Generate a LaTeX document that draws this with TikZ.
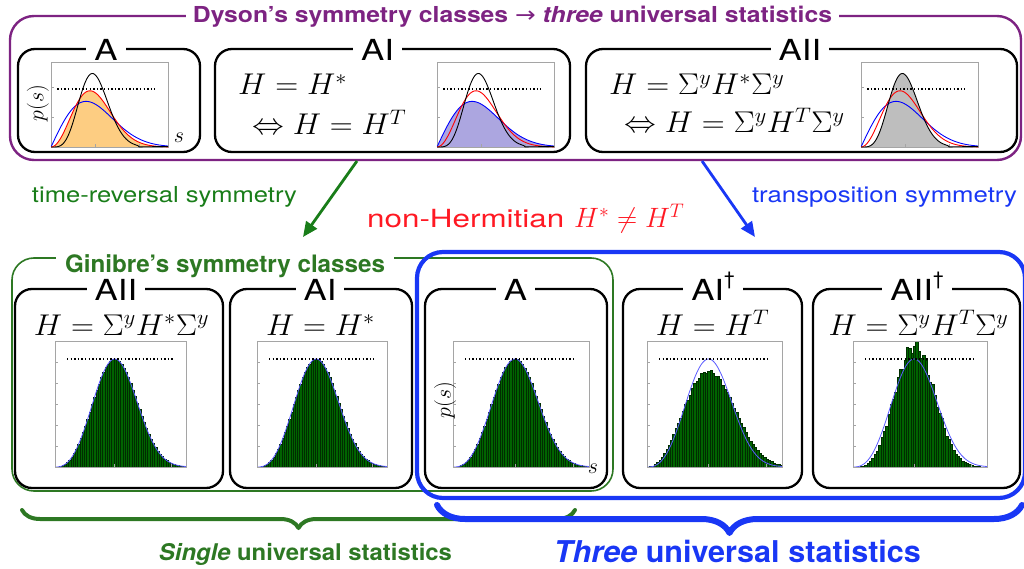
\documentclass[tikz,border=0pt]{standalone}
\usepackage{fix-cm}
\usepackage[no-math]{fontspec}
\setmainfont{TeX Gyre Heros}
\newfontfamily\dejavu{DejaVu Sans}
\usepackage{graphicx}
\usetikzlibrary{arrows.meta,decorations.pathreplacing}
\definecolor{dpurple}{RGB}{125,35,130}
\definecolor{dgreen}{RGB}{45,120,35}
\definecolor{tgreen}{RGB}{25,125,25}
\definecolor{dblue}{RGB}{25,55,245}
\definecolor{nred}{RGB}{255,25,35}
\definecolor{framegray}{RGB}{165,165,165}
\definecolor{orfill}{RGB}{253,205,130}
\definecolor{lavfill}{RGB}{172,166,224}
\definecolor{grayfill}{RGB}{190,190,190}
\definecolor{bargreen}{RGB}{0,100,0}
\definecolor{baredge}{RGB}{0,45,0}
\definecolor{curveblue}{RGB}{90,90,255}
\newcommand\fitw[2]{\resizebox{#1}{\height}{#2}}
\newcommand\ttlw[1]{\scalebox{1.2}[1]{#1}}
\newcommand\fmw[1]{\scalebox{1.06}[1]{#1}}
\newcommand\dgr{\raisebox{15pt}{\fontsize{19}{19}\selectfont\textdagger}}
\tikzset{declare function={
  goe(\xx)=1.5708*\xx*exp(-0.7854*\xx*\xx);
  gue(\xx)=3.2423*\xx*\xx*exp(-1.2732*\xx*\xx);
  gse(\xx)=11.597*\xx*\xx*\xx*\xx*exp(-2.2635*\xx*\xx);
  gin(\xx,\mm,\nn)=(\xx)^(\mm)*exp((\mm/\nn)*(1-(\xx)^(\nn)));
}}
\newcommand\topplot[3]{%
  \begin{scope}[shift={(#1pt,-147pt)}, x=44pt, y=60pt]
    \fill[#2] plot[domain=0.005:2.66, samples=90, smooth] (\x,{#3(\x)}) -- (2.66,0) -- (0,0) -- cycle;
    \draw[frame] (0,0) rectangle (2.66,1.4167);
    \foreach \yy in {0.5,1} \draw[frame] (0,\yy) -- ++(0.07,0);
    \foreach \xx in {1,2} \draw[frame] (\xx,0) -- ++(0,0.05);
    \draw[dotline] (0.14,0.97) -- (2.36,0.97);
    \draw[curve, blue] plot[domain=0.005:2.66, samples=90, smooth] (\x,{goe(\x)});
    \draw[curve, red] plot[domain=0.005:2.66, samples=90, smooth] (\x,{gue(\x)});
    \draw[curve, black] plot[domain=0.005:2.66, samples=90, smooth] (\x,{gse(\x)});
  \end{scope}}
\newcommand\botplot[6]{%
  \pgfmathsetmacro\bpw{#2/58}%
  \pgfmathsetmacro\bpp{0.456*#2}%
  \begin{scope}[shift={(#1pt,-467pt)}, x=1pt, y=1pt]
    \foreach \i in {0,...,57}{%
      \pgfmathsetmacro\hh{#5*gin(((\i+0.5)*\bpw)/\bpp,#3,#4)*(1+#6*sin(\i*97))}%
      \ifdim\hh pt>0.4pt \filldraw[bar] ({\i*\bpw},0) rectangle ({(\i+1)*\bpw},\hh);\fi
    }
    \draw[bcurve] plot[domain=0.5:#2, samples=100, smooth] (\x,{108*gin(\x/\bpp,2.6,2.8)});
    \draw[frame] (0,0) rectangle (#2,126);
    \foreach \yy in {21,42,63,84,105} \draw[frame] (0,\yy) -- ++(3,0);
    \draw[frame] (\bpp,0) -- ++(0,3);
    \draw[frame] ({\bpp+0.43*#2},0) -- ++(0,3);
    \draw[dotline] (12,108) -- ({#2-13},108);
  \end{scope}}
\begin{document}
\begin{tikzpicture}[x=1pt,y=-1pt,
  clsbox/.style={draw=black, line width=2.3pt, rounded corners=17pt, inner sep=0pt},
  ttl/.style={anchor=base, fill=white, inner xsep=8pt, inner ysep=1pt, font=\fontsize{29}{29}\selectfont},
  fm/.style={inner sep=0pt, font=\fontsize{30}{30}\selectfont},
  lab/.style={inner sep=0pt, font=\fontsize{22}{22}\selectfont},
  frame/.style={draw=framegray, line width=0.6pt},
  curve/.style={line width=0.9pt},
  bcurve/.style={draw=curveblue, line width=0.8pt},
  bar/.style={fill=bargreen, draw=baredge, line width=0.25pt},
  dotline/.style={draw=black, line width=1.5pt, dash pattern=on 1.4pt off 2.2pt},
  arr/.style={line width=2.8pt, -{Triangle[length=15pt,width=13pt]}},
  ]
\useasboundingbox (0,0) rectangle (1024,569);
% outer frames
\node[draw=dpurple, line width=2.4pt, rounded corners=24pt, minimum width=1011pt, minimum height=144pt, inner sep=0pt] (dyson) at (515.5,88) {};
\node[draw=dgreen, line width=1.6pt, rounded corners=22pt, minimum width=601pt, minimum height=233pt, inner sep=0pt] (ginibre) at (312.5,374.5) {};
\node[draw=dblue, line width=4.2pt, rounded corners=26pt, minimum width=608pt, minimum height=246pt, inner sep=0pt] (transp) at (721,375) {};
% class boxes
\node[clsbox, minimum width=182pt, minimum height=103pt] (tA) at (109,100.5) {};
\node[clsbox, minimum width=355pt, minimum height=103pt] (tAI) at (392.5,100.5) {};
\node[clsbox, minimum width=431pt, minimum height=103pt] (tAII) at (801.5,100.5) {};
\node[clsbox, minimum width=208pt, minimum height=199pt] (bAII) at (119,388.5) {};
\node[clsbox, minimum width=182pt, minimum height=199pt] (bAI) at (321,388.5) {};
\node[clsbox, minimum width=182pt, minimum height=199pt] (bA) at (516,388.5) {};
\node[clsbox, minimum width=179pt, minimum height=199pt] (bAId) at (712.5,388.5) {};
\node[clsbox, minimum width=207pt, minimum height=199pt] (bAIId) at (916.5,388.5) {};
% titles
\node[anchor=base, fill=white, inner xsep=7pt, inner ysep=2pt, text=dpurple, font=\bfseries\fontsize{22}{22}\selectfont] (dysonT) at (512.5,23) {\fitw{639pt}{Dyson’s symmetry classes {\dejavu\mdseries →} \textit{three} universal statistics}};
\node[anchor=base, fill=white, inner xsep=9pt, inner ysep=2pt, text=dgreen, font=\bfseries\fontsize{24}{24}\selectfont] (ginT) at (225,272) {\fitw{320pt}{Ginibre’s symmetry classes}};
\node[ttl] (tAt) at (106,61) {\ttlw{A}};
\node[ttl] (tAIt) at (377.5,61) {\ttlw{AI}};
\node[ttl] (tAIIt) at (800,61) {\ttlw{AII}};
\node[ttl] (bAIIt) at (116,300) {\ttlw{AII}};
\node[ttl] (bAIt) at (320,300) {\ttlw{AI}};
\node[ttl] (bAt) at (515.5,300) {\ttlw{A}};
\node[ttl] (bAIdt) at (713,300) {\ttlw{AI}\dgr};
\node[ttl] (bAIIdt) at (917,300) {\ttlw{AII}\dgr};
% formulas
\node[fm, anchor=base west] (f1) at (238,95) {\fmw{$H = H^*$}};
\node[fm, anchor=base west] (f2) at (252,135) {\fmw{$\Leftrightarrow H = H^T$}};
\node[fm, anchor=base west] (f3) at (609,95) {\fmw{$H = \Sigma^y H^* \Sigma^y$}};
\node[fm, anchor=base west] (f4) at (624,133) {\fmw{$\Leftrightarrow H = \Sigma^y H^T \Sigma^y$}};
\node[fm, anchor=base] (f5) at (121.5,335) {\fmw{$H = \Sigma^y H^* \Sigma^y$}};
\node[fm, anchor=base] (f6) at (320.5,335) {\fmw{$H = H^*$}};
\node[fm, anchor=base] (f7) at (712.5,335) {\fmw{$H = H^T$}};
\node[fm, anchor=base] (f8) at (918.5,335) {\fmw{$H = \Sigma^y H^T \Sigma^y$}};
% plots
\topplot{51}{orfill}{gue}
\topplot{437}{lavfill}{goe}
\topplot{861}{grayfill}{gse}
\botplot{55}{131}{2.6}{2.8}{108}{0}
\botplot{257}{130}{2.6}{2.8}{108}{0}
\botplot{453}{136}{2.6}{2.8}{108}{0}
\botplot{647}{135}{2.2}{2.6}{96}{0.015}
\botplot{853}{134}{3.3}{2.8}{121}{0.05}
\node[lab, rotate=90] (tps) at (38,103) {$p(s)$};
\node[lab] (tss) at (179,138) {$s$};
\node[lab, rotate=90] (bps) at (445,400) {$p(s)$};
\node[lab] (bss) at (593,469) {$s$};
% arrows and labels
\coordinate (ga1) at (357,161);
\coordinate (ga2) at (303,237);
\coordinate (ba1) at (702,161);
\coordinate (ba2) at (755,237);
\draw[arr, tgreen] (ga1) -- (ga2);
\draw[arr, dblue] (ba1) -- (ba2);
\node[anchor=base, inner sep=0pt, text=tgreen, font=\fontsize{22}{22}\selectfont] (trs) at (164.5,203) {\fitw{265pt}{time-reversal symmetry}};
\node[anchor=base, inner sep=0pt, text=dblue, font=\fontsize{22}{22}\selectfont] (tps2) at (884.5,203) {\fitw{265pt}{transposition symmetry}};
\node[anchor=base west, inner sep=0pt, text=nred, font=\fontsize{25}{25}\selectfont] (nonH) at (367,228) {\fitw{197pt}{non-Hermitian}\hspace{10pt}{\fontsize{28}{28}\selectfont$H^*\neq H^T$}};
% braces
\coordinate (gbL) at (22,510);
\coordinate (gbR) at (575,510);
\coordinate (bbL) at (437,505);
\coordinate (bbR) at (1022,505);
\draw[decorate, decoration={brace, mirror, amplitude=18pt}, dgreen, line width=4pt, line cap=round, line join=round] (gbL) -- (gbR);
\draw[decorate, decoration={brace, mirror, amplitude=28pt}, dblue, line width=6pt, line cap=round, line join=round] (bbL) -- (bbR);
\node[anchor=base, inner sep=0pt, text=dgreen, font=\bfseries\fontsize{23}{23}\selectfont] (single) at (305.5,560) {\fitw{293pt}{\textit{Single} universal statistics}};
\node[anchor=base, inner sep=0pt, text=dblue, font=\bfseries\fontsize{30}{30}\selectfont] (three) at (737.5,562) {\fitw{367pt}{\textit{Three} universal statistics}};
\end{tikzpicture}
\end{document}
